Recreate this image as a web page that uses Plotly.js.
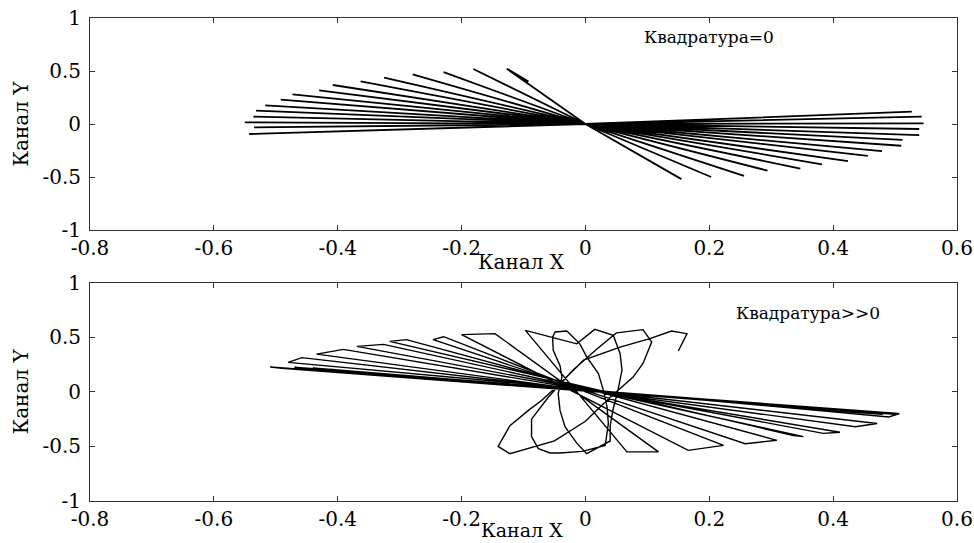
<!DOCTYPE html>
<html>
<head>
<meta charset="utf-8">
<script src="https://cdn.plot.ly/plotly-3.0.1.min.js"></script>
<style>html,body{margin:0;padding:0;background:#fff;}#chart{width:974px;height:543px;}</style>
</head>
<body>
<div id="chart"></div>
<script>
// Upper panel: quadrature = 0 (path through the origin)
const topX = [-0.092,-0.127,0,0.155,0,-0.181,0,0.203,0,-0.229,0,0.256,0,-0.279,0,0.294,0,-0.325,0,0.347,0,-0.363,0,0.382,0,-0.408,0,0.424,0,-0.430,0,0.456,0,-0.473,0,0.479,0,-0.492,0,0.510,0,-0.517,0,0.512,0,-0.532,0,0.539,0,-0.536,0,0.539,0,-0.550,0,0.546,0,-0.535,0,0.543,0,-0.543,0,0.527];
const topY = [0.40,0.522,0,-0.52,0,0.519,0,-0.50,0,0.49,0,-0.49,0,0.469,0,-0.44,0,0.437,0,-0.42,0,0.403,0,-0.38,0,0.368,0,-0.35,0,0.318,0,-0.30,0,0.28,0,-0.255,0,0.23,0,-0.205,0,0.176,0,-0.15,0,0.126,0,-0.104,0,0.069,0,-0.047,0,0.016,0,0.006,0,-0.031,0,0.07,0,-0.094,0,0.116];

// Lower panel: quadrature >> 0
const botX = [0.150,0.164,0.139,0.104,0.056,-0.003,-0.047,-0.071,-0.092,-0.122,-0.141,-0.122,-0.050,0.000,0.040,0.077,0.093,0.107,0.093,0.050,0.020,-0.020,-0.060,-0.087,-0.087,-0.076,-0.057,-0.041,-0.005,0.032,0.037,0.035,0.029,0.021,0.002,-0.009,-0.030,-0.049,-0.053,-0.052,-0.041,-0.038,-0.044,-0.041,-0.033,-0.014,0.002,0.040,0.040,0.045,0.052,0.059,0.056,0.045,0.015,-0.014,
  -0.097,0.067,0.118,-0.146,-0.200,0.166,0.223,-0.229,-0.246,0.258,0.309,-0.289,-0.316,0.336,0.352,-0.326,-0.369,0.384,0.411,-0.391,-0.434,0.436,0.471,-0.458,-0.480,0.490,0.507,-0.509,-0.490,0.500,0.485,-0.500,-0.470,0.505,0.470,-0.505,
  0.495,0.460,-0.485,-0.450,0.490,0.450,-0.470,-0.430,0.480,0.440,-0.440,-0.400,0.470,0.420,-0.410];
const botY = [0.374,0.533,0.557,0.487,0.410,0.290,0.045,-0.080,-0.170,-0.310,-0.500,-0.566,-0.450,-0.270,-0.050,0.135,0.260,0.456,0.570,0.540,0.400,0.200,-0.050,-0.250,-0.410,-0.520,-0.560,-0.560,-0.545,-0.490,-0.290,-0.140,0.014,0.167,0.320,0.440,0.557,0.548,0.500,0.380,0.240,0.135,-0.017,-0.170,-0.320,-0.470,-0.566,-0.450,-0.310,-0.150,0.000,0.200,0.350,0.517,0.572,0.440,
  0.563,-0.550,-0.550,0.533,0.524,-0.536,-0.490,0.505,0.478,-0.475,-0.444,0.478,0.462,-0.400,-0.410,0.435,0.417,-0.380,-0.370,0.389,0.346,-0.320,-0.290,0.313,0.270,-0.230,-0.200,0.227,0.215,-0.205,-0.200,0.222,0.210,-0.198,-0.190,0.225,
  -0.202,-0.185,0.222,0.205,-0.200,-0.180,0.225,0.200,-0.205,-0.190,0.220,0.190,-0.200,-0.180,0.205];

const xTickVals = [-0.8,-0.6,-0.4,-0.2,0,0.2,0.4,0.6];
const xTickText = ['-0.8','-0.6','-0.4','-0.2','0','0.2','0.4','0.6'];
const yTickVals = [-1,-0.5,0,0.5,1];
const yTickText = ['-1','-0.5','0','0.5','1'];

const serif = 'DejaVu Serif, Liberation Serif, serif';

const traces = [
  {x: topX, y: topY, xaxis:'x', yaxis:'y', type:'scatter', mode:'lines', line:{color:'#000', width:1.8}, hoverinfo:'skip'},
  {x: botX, y: botY, xaxis:'x2', yaxis:'y2', type:'scatter', mode:'lines', line:{color:'#000', width:1.4}, hoverinfo:'skip'}
];

function xAxis(anchor){
  return {anchor: anchor, domain:[0,1], range:[-0.8,0.6], tickmode:'array', tickvals:xTickVals, ticktext:xTickText,
    ticks:'inside', ticklen:5, tickcolor:'#333', showline:true, linecolor:'#333', linewidth:1, mirror:'ticks',
    showgrid:false, zeroline:false, tickfont:{family:serif, size:20, color:'#000'}, ticklabelstandoff:0};
}
function yAxis(anchor, dom){
  return {anchor: anchor, domain:dom, range:[-1,1], tickmode:'array', tickvals:yTickVals, ticktext:yTickText,
    ticks:'inside', ticklen:5, tickcolor:'#333', showline:true, linecolor:'#333', linewidth:1, mirror:'ticks',
    showgrid:false, zeroline:false, tickfont:{family:serif, size:20, color:'#000'}, ticklabelstandoff:4,
    title:{text:'Канал Y', font:{family:serif, size:20, color:'#000'}, standoff:8}};
}

const layout = {
  width:974, height:543,
  margin:{l:90, r:17, t:18, b:42},
  paper_bgcolor:'#fff', plot_bgcolor:'#fff',
  showlegend:false,
  xaxis: xAxis('y'),
  yaxis: yAxis('x', [0.561,1]),
  xaxis2: xAxis('y2'),
  yaxis2: yAxis('x2', [0,0.452]),
  annotations:[
    {text:'Квадратура=0', x:0.20, y:0.82, xref:'x', yref:'y', showarrow:false, font:{family:serif, size:17, color:'#000'}},
    {text:'Квадратура>>0', x:0.359, y:0.72, xref:'x2', yref:'y2', showarrow:false, font:{family:serif, size:17, color:'#000'}},
    {text:'Канал X', x:0.498, y:0.495, xref:'paper', yref:'paper', xanchor:'center', yanchor:'middle', showarrow:false, font:{family:serif, size:20, color:'#000'}},
    {text:'Канал X', x:0.498, y:-0.0592, xref:'paper', yref:'paper', xanchor:'center', yanchor:'middle', showarrow:false, font:{family:serif, size:19, color:'#000'}}
  ]
};

Plotly.newPlot('chart', traces, layout, {staticPlot:true, displayModeBar:false});
</script>
</body>
</html>
